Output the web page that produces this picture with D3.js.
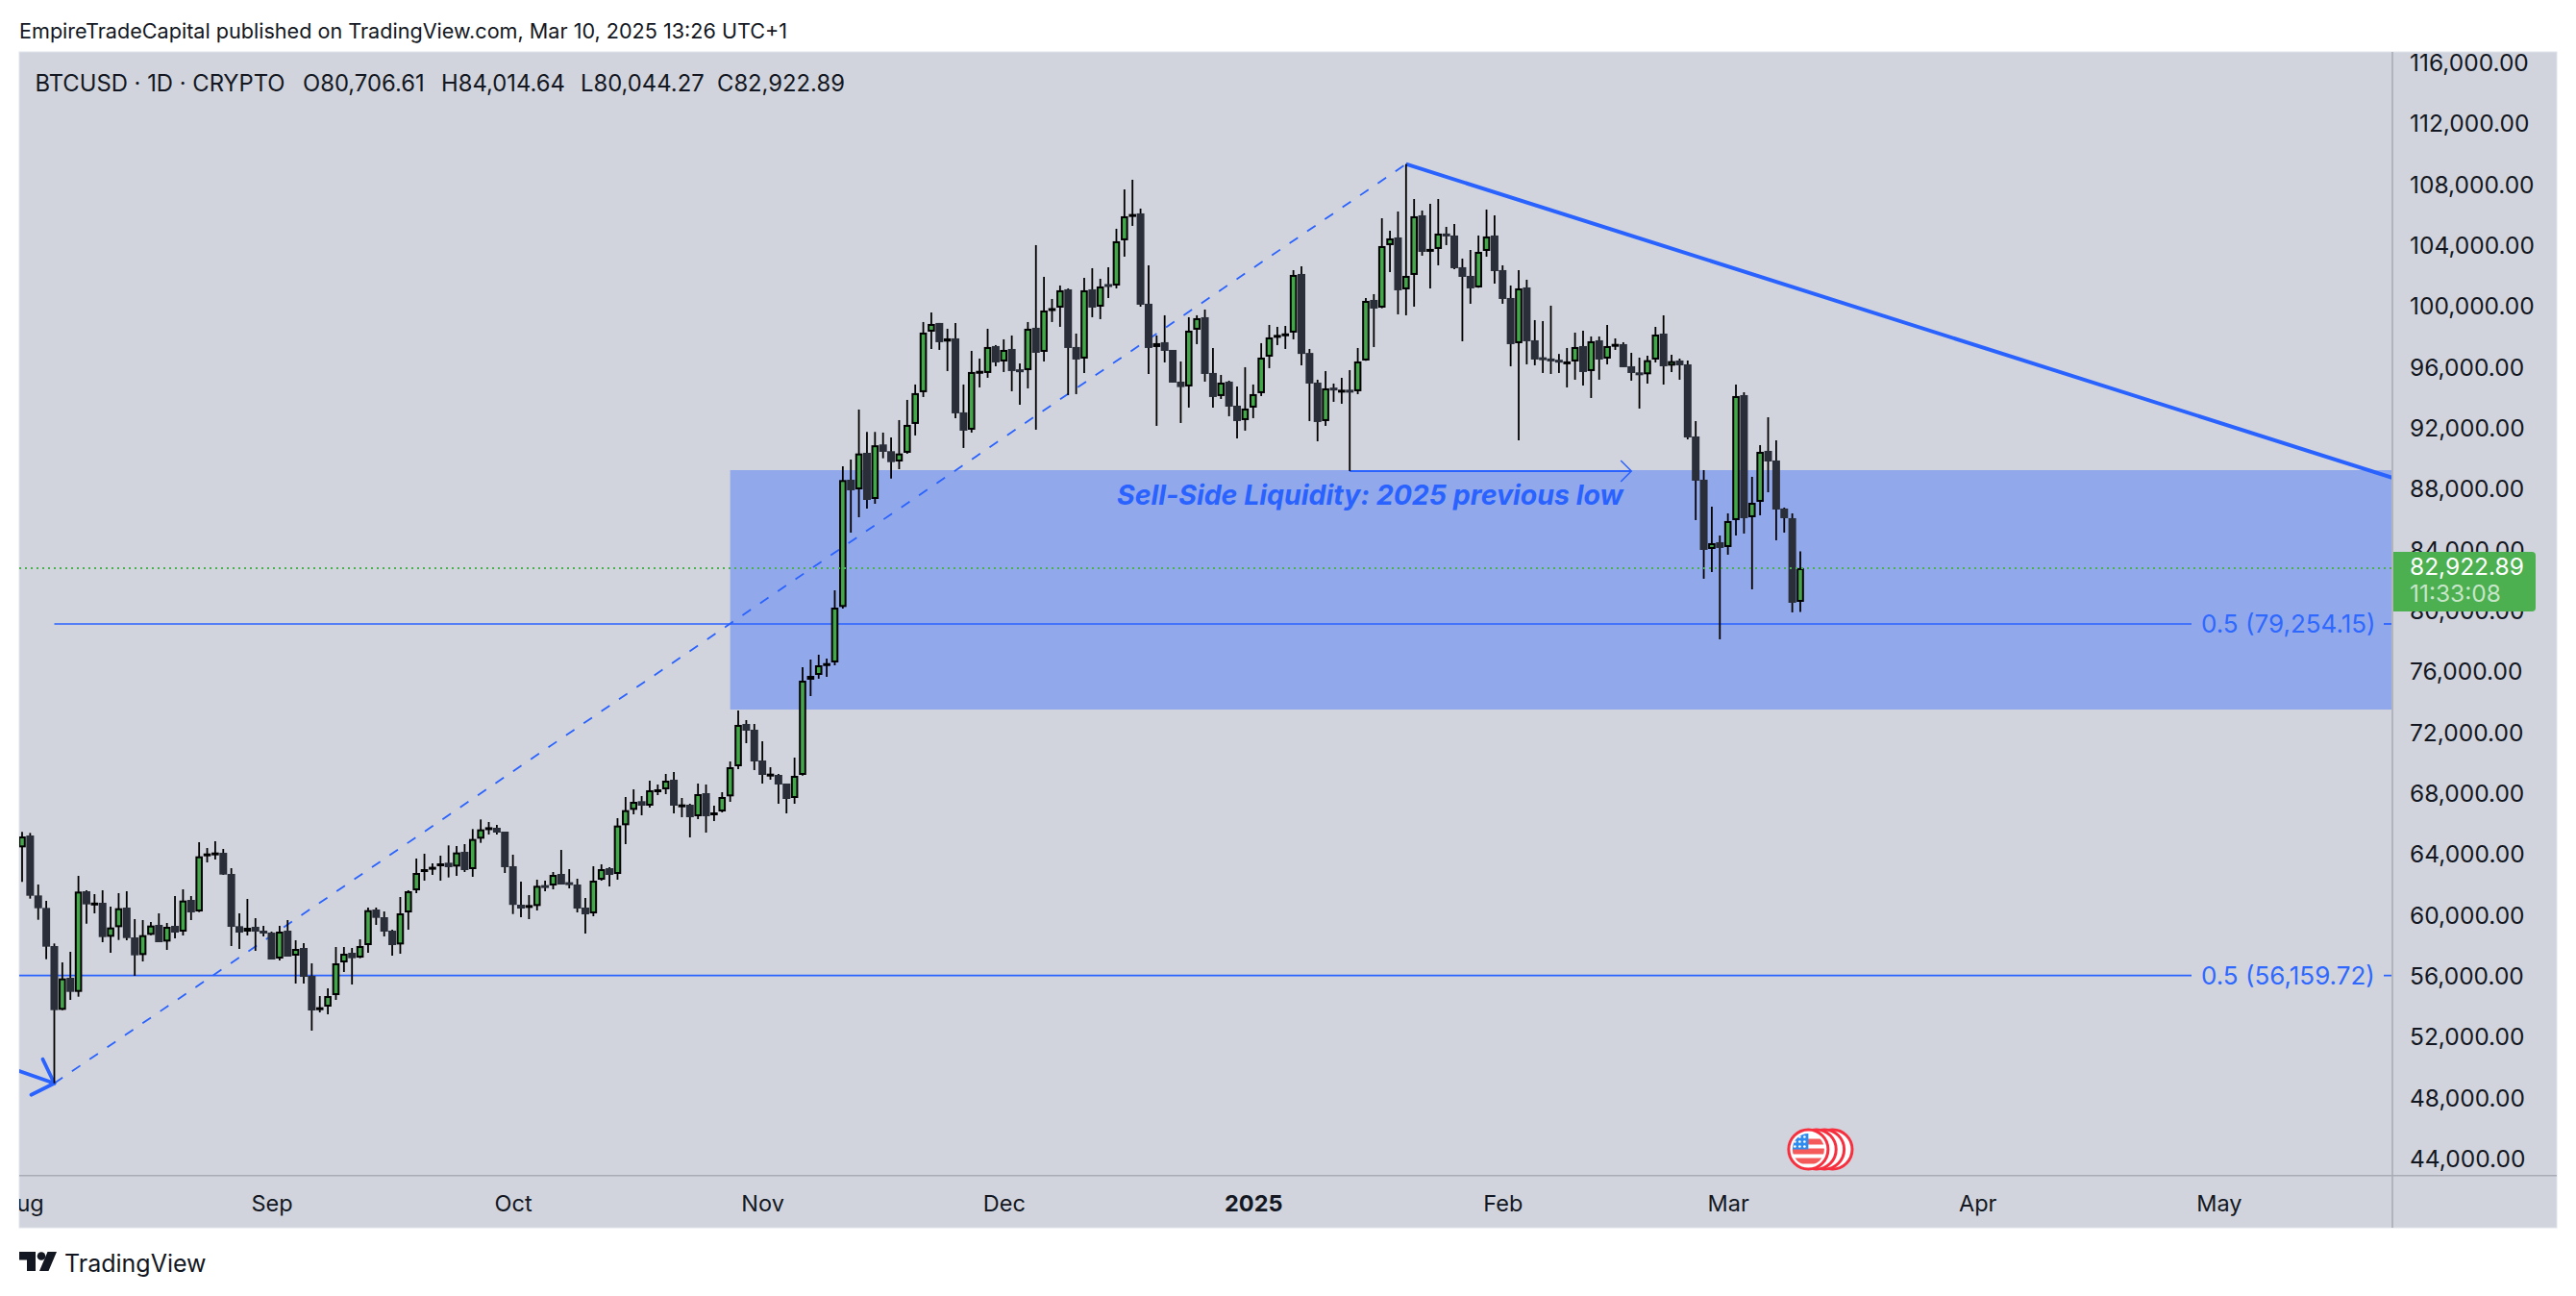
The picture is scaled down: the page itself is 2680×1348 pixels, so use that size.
<!DOCTYPE html>
<html>
<head>
<meta charset="utf-8">
<script src="https://cdn.jsdelivr.net/npm/d3@7"></script>
<style>
  html, body { margin: 0; padding: 0; background: #fff; }
  svg { display: block; }
  text { font-family: Inter, "Noto Sans", sans-serif; }
</style>
</head>
<body>
<svg id="chart" width="2680" height="1348"></svg>
<script>
// Daily candles, Aug 1 2024 to Mar 10 2025
const opens = [
  64579,65358,61421,60600,58095,53906,56011,55085,61695,60860,
  60937,58705,59337,60621,58663,57506,58832,59485,58390,59422,
  59043,61127,60368,64010,64200,64221,62832,59400,59043,59358,
  59106,58979,57274,59106,57464,57969,56137,53885,54117,54874,
  57022,57653,57337,58158,60495,59990,59106,58200,60305,61758,
  62958,63230,63337,63570,63318,64286,63149,65149,65870,65865,
  65612,63339,60811,60750,60727,62100,62074,62832,62290,62137,
  60621,60242,62453,63210,62832,66033,67043,67612,67317,68350,
  68391,69022,67360,67380,66623,68138,66686,66938,67928,69906,
  72685,72306,70285,69340,69338,68770,67822,69338,75590,75906,
  76590,76726,80370,88727,88095,90495,87464,91046,90603,89926,
  90498,92393,94477,98455,99024,97803,98013,93151,92013,95840,
  95740,97508,96497,97318,95980,95929,98708,97129,99900,100034,
  101234,97445,96687,101234,100097,101580,101486,104455,106050,106223,
  100287,97445,97761,97255,95171,94856,98582,99402,95740,94224,
  95171,93592,92645,93466,94413,96813,98200,98240,98392,102244,
  97055,95108,92582,94780,94600,94640,94540,96560,100539,100033,
  104138,104643,101233,102181,106096,103800,103886,104900,104770,102686,
  102117,101360,103759,104770,102496,100665,97697,101360,97886,96770,
  96690,96610,96460,96497,97507,95866,97886,96686,97550,97634,
  96181,95780,95654,96622,98327,96222,96559,96306,91570,88728,
  84181,84623,84308,86076,94285,86265,87276,90623,89991,86834,
  86202,80706.61
];
const highs = [
  65589,65526,62137,61063,58264,57022,57716,62705,61758,61505,
  61758,60684,61569,61695,59864,59800,59674,60243,59611,61379,
  61821,61379,64916,64537,64979,64473,63210,60243,61190,59927,
  59422,59043,59422,59800,58474,58285,56959,54811,55317,58032,
  58032,57969,58537,60621,60621,60368,59169,61316,61758,63842,
  64158,63526,64031,64707,64665,64791,65781,66412,66244,66054,
  65612,64097,62326,61442,62453,62390,62958,64410,63147,62516,
  61253,63337,63463,63274,66496,67886,68391,67949,68959,68707,
  69401,69528,67822,67443,68770,68707,67317,68201,70222,73569,
  72938,72685,71548,69843,69401,68770,70475,76411,76916,77232,
  76979,81464,89611,90053,93340,91867,91867,91824,91509,92645,
  93972,94982,99087,99718,99024,98645,99024,94982,97192,96687,
  98645,97571,97950,98202,96371,99087,104139,102055,100602,101487,
  101297,98329,101992,102623,101928,102686,105212,107801,108433,106538,
  102812,98202,99529,97255,96497,99402,99529,99908,97382,95613,
  95234,94855,96119,94982,97697,98897,98770,98833,102496,102749,
  97318,95297,95865,95045,95423,95928,97381,100665,100918,105906,
  105085,106348,109464,107169,106412,106854,107169,105338,105527,103254,
  103822,104770,106475,106096,102812,101486,102496,101865,99212,99149,
  100160,96990,97381,98391,98518,98139,98139,98897,98012,97760,
  97065,96748,96874,98769,99527,96938,96685,96559,92580,89360,
  86960,85065,86518,94980,94475,88918,91002,92833,91317,86897,
  86518,84014.64
];
const lows = [
  62305,61211,59822,57232,49080,53885,54559,54769,59569,60243,
  58348,57653,58495,58474,56137,57085,58811,58348,57843,58600,
  58790,59800,60326,63589,63779,62769,58095,57906,58790,57779,
  58727,57211,57148,57401,55632,55632,52538,53738,53612,54559,
  56390,55569,57295,57653,59485,58727,57464,57590,59169,61569,
  62390,62768,62390,62602,62707,62960,62644,64875,65423,65423,
  62897,60200,59990,59864,60432,61695,61821,62137,61884,60306,
  58916,60053,62390,62011,62453,64791,66749,66686,67191,68012,
  68075,66812,66560,65233,66433,65549,66307,66875,67570,69717,
  71422,69654,68770,69022,67443,66812,67443,69296,74516,75653,
  75779,76537,80265,85253,86264,86832,87148,90137,88811,89421,
  90435,91635,94161,97318,97256,95866,92772,90814,91824,94792,
  95424,96182,95803,94540,93656,94729,92014,96497,99087,98771,
  94287,94350,95740,99402,99276,100665,101297,103381,105402,100097,
  95677,92266,96434,95108,92455,93466,97634,95171,93466,94034,
  92898,91446,91951,92771,94224,96055,97571,97318,97950,96244,
  92582,91255,92266,93845,93718,89298,94350,96540,97444,99991,
  102370,99591,99528,100097,103444,101297,102812,104138,102560,97823,
  100286,101339,103380,101612,100286,96181,91319,96308,96244,95739,
  95676,95739,94792,95297,94918,94097,95297,96308,97255,96118,
  95234,93402,95043,96432,94980,95801,95296,91380,86076,82224,
  82666,78245,83802,85065,85192,81529,86392,87907,84750,85255,
  80014,80044.27
];
const closes = [
  65295,61400,60579,58053,53885,55970,55085,61674,60832,60950,
  58685,59316,60579,58621,57485,58811,59443,58348,59358,58979,
  61085,60305,63989,64179,64242,62790,59358,58979,59295,59043,
  58916,57211,59043,57401,57906,56074,53864,54075,54811,56959,
  57590,57295,58095,60453,59948,59043,58158,60243,61695,62895,
  63147,63300,63526,63276,64244,63086,65128,65760,65900,65549,
  63276,60800,60558,60790,62053,62000,62768,62137,62180,60558,
  60179,62390,63147,62768,66012,67023,67570,67317,68328,68390,
  68959,67317,67400,66560,68075,66623,66875,67886,69843,72622,
  72243,70222,69338,69420,68706,67759,69275,75527,75842,76537,
  76680,80326,88706,88032,90453,87400,90990,90561,89884,90453,
  92330,94414,98392,98960,97761,98013,93088,91950,95803,95880,
  97445,96434,97255,95866,95900,98645,97066,99844,100000,101171,
  97382,96624,101171,100034,101423,101440,104391,106033,106180,100224,
  97382,97698,97192,95108,94814,98518,99339,95677,94161,95108,
  93529,92582,93403,94350,96750,98076,98240,98340,102181,96992,
  95045,92519,94729,94600,94640,94540,96497,100475,99970,104075,
  104580,101170,102117,106033,103696,103890,104896,104760,102623,102054,
  101297,103696,104707,102433,100602,97634,101297,97823,96623,96650,
  96620,96500,96500,97444,95803,97823,96623,97507,97650,96118,
  95739,95700,96580,98264,96180,96517,96243,91507,88665,84118,
  84560,84245,86013,94222,86202,87213,90560,89928,86771,86202,
  80645,82922.89
];

const priceTicks = d3.range(44000, 116001, 4000);
const monthTicks = [
  ['2024-08-01', 'Aug'], ['2024-09-01', 'Sep'], ['2024-10-01', 'Oct'],
  ['2024-11-01', 'Nov'], ['2024-12-01', 'Dec'], ['2025-01-01', '2025'],
  ['2025-02-01', 'Feb'], ['2025-03-01', 'Mar'], ['2025-04-01', 'Apr'],
  ['2025-05-01', 'May']
];
const eventDates = ['2025-03-14', '2025-03-13', '2025-03-12', '2025-03-11'];

const lastPrice = 82922.89;
const fibLevels = [
  { from: '2024-08-05', price: 79254.15, label: '0.5 (79,254.15)' },
  { from: '2024-07-20', price: 56159.72, label: '0.5 (56,159.72)' }
];
const zoneTop = 89358, zoneBottom = 73631, zoneStart = '2024-10-28';
const swingLow = ['2024-08-05', 49080], swingHigh = ['2025-01-20', 109464];
const trendEnd = ['2025-05-23', 88788], leftLegStart = ['2024-07-28', 50560];
const sellSide = ['2025-01-13', '2025-02-17', 89295];

const parseDay = d3.utcParse('%Y-%m-%d');
const firstDay = parseDay('2024-08-01'), lastDay = parseDay('2025-03-10');
const candles = closes.map((c, i) => ({
  date: d3.utcDay.offset(firstDay, i), open: opens[i], high: highs[i], low: lows[i], close: c
}));

const panel = { left: 20, top: 54, right: 2660, bottom: 1277 };
const plotRight = 2488, plotBottom = 1222;

const x = d3.scaleUtc().domain([firstDay, lastDay]).range([23, 1873]);
const y = d3.scaleLinear().domain([88000, 44000]).range([510.5, 1207.2]);

const svg = d3.select('#chart');
const BLUE = '#2962ff', GREEN = '#43a84a', DARK = '#2a2e39', INK = '#131722';

svg.append('defs').append('clipPath').attr('id', 'plot-clip')
  .append('rect')
  .attr('x', panel.left).attr('y', panel.top)
  .attr('width', plotRight - panel.left).attr('height', plotBottom - panel.top);

svg.select('defs').append('clipPath').attr('id', 'time-clip')
  .append('rect')
  .attr('x', panel.left).attr('y', plotBottom)
  .attr('width', plotRight - panel.left).attr('height', panel.bottom - plotBottom);

// header
svg.append('text').attr('x', 20).attr('y', 40)
  .attr('font-size', 21.6).attr('fill', INK)
  .text('EmpireTradeCapital published on TradingView.com, Mar 10, 2025 13:26 UTC+1');

// panel background
svg.append('rect')
  .attr('x', panel.left).attr('y', panel.top)
  .attr('width', panel.right - panel.left).attr('height', panel.bottom - panel.top)
  .attr('fill', '#d1d4dc').attr('stroke', '#e0e3eb').attr('stroke-width', 1);

const plot = svg.append('g').attr('clip-path', 'url(#plot-clip)');

// liquidity zone
plot.append('rect')
  .attr('x', x(parseDay(zoneStart))).attr('y', y(zoneTop))
  .attr('width', plotRight - x(parseDay(zoneStart)))
  .attr('height', y(zoneBottom) - y(zoneTop))
  .attr('fill', '#91a8ea');

// fib levels, gap in the line leaves room for the label
const labelGapStart = 2280, labelGapEnd = 2480;
plot.selectAll('.fib-a').data(fibLevels).join('line')
  .attr('x1', d => x(parseDay(d.from))).attr('x2', labelGapStart)
  .attr('y1', d => y(d.price)).attr('y2', d => y(d.price))
  .attr('stroke', BLUE).attr('stroke-width', 1.7);
plot.selectAll('.fib-b').data(fibLevels).join('line')
  .attr('x1', labelGapEnd).attr('x2', plotRight)
  .attr('y1', d => y(d.price)).attr('y2', d => y(d.price))
  .attr('stroke', BLUE).attr('stroke-width', 1.7);
plot.selectAll('.fib-label').data(fibLevels).join('text')
  .attr('x', 2290).attr('y', d => y(d.price) + 9)
  .attr('font-size', 26).attr('fill', '#2f68ff')
  .text(d => d.label);

// dashed swing line
const pt = ([d, p]) => [x(parseDay(d)), y(p)];
plot.append('line')
  .attr('x1', pt(swingLow)[0]).attr('y1', pt(swingLow)[1])
  .attr('x2', pt(swingHigh)[0]).attr('y2', pt(swingHigh)[1])
  .attr('stroke', BLUE).attr('stroke-width', 1.8).attr('stroke-dasharray', '10.5,11.7');

// solid trend legs
plot.append('line')
  .attr('x1', pt(swingHigh)[0]).attr('y1', pt(swingHigh)[1])
  .attr('x2', pt(trendEnd)[0]).attr('y2', pt(trendEnd)[1])
  .attr('stroke', BLUE).attr('stroke-width', 4);
plot.append('line')
  .attr('x1', pt(leftLegStart)[0]).attr('y1', pt(leftLegStart)[1])
  .attr('x2', pt(swingLow)[0]).attr('y2', pt(swingLow)[1])
  .attr('stroke', BLUE).attr('stroke-width', 3.8).attr('stroke-linecap', 'round');

const [tipX, tipY] = pt(swingLow);
plot.append('path')
  .attr('d', `M${tipX - 12},${tipY - 25}L${tipX},${tipY}L${tipX - 24},${tipY + 12}`)
  .attr('fill', 'none').attr('stroke', BLUE).attr('stroke-width', 3.8)
  .attr('stroke-linecap', 'round').attr('stroke-linejoin', 'round');

// sell side arrow
const ssY = y(sellSide[2]), ssX1 = x(parseDay(sellSide[0])), ssX2 = x(parseDay(sellSide[1]));
plot.append('line')
  .attr('x1', ssX1).attr('x2', ssX2).attr('y1', ssY).attr('y2', ssY)
  .attr('stroke', BLUE).attr('stroke-width', 2);
plot.append('path')
  .attr('d', `M${ssX2 - 11},${ssY - 11}L${ssX2},${ssY}L${ssX2 - 11},${ssY + 11}`)
  .attr('fill', 'none').attr('stroke', BLUE).attr('stroke-width', 1.5);
plot.append('text')
  .attr('x', 1162).attr('y', 525)
  .attr('font-size', 28.5).attr('font-weight', 700).attr('font-style', 'italic')
  .attr('fill', '#2962ff')
  .text('Sell-Side Liquidity: 2025 previous low');

// candles
plot.append('g').selectAll('line').data(candles).join('line')
  .attr('x1', d => x(d.date)).attr('x2', d => x(d.date))
  .attr('y1', d => y(d.high)).attr('y2', d => y(d.low))
  .attr('stroke', '#000').attr('stroke-width', 1.8);

const isUp = d => d.close >= d.open;
plot.append('g').selectAll('rect').data(candles.filter(d => !isUp(d))).join('rect')
  .attr('x', d => x(d.date) - 4)
  .attr('width', 8)
  .attr('y', d => y(d.open))
  .attr('height', d => Math.max(3, y(d.close) - y(d.open)))
  .attr('fill', DARK);

plot.append('g').selectAll('rect').data(candles.filter(isUp)).join('rect')
  .attr('x', d => x(d.date) - 2.8)
  .attr('width', 5.6)
  .attr('y', d => y(d.close) + 1)
  .attr('height', d => Math.max(1, y(d.open) - y(d.close) - 2))
  .attr('fill', GREEN)
  .attr('stroke', '#000').attr('stroke-width', 2);

// last price line
plot.append('line')
  .attr('x1', panel.left).attr('x2', plotRight)
  .attr('y1', y(lastPrice)).attr('y2', y(lastPrice))
  .attr('stroke', '#4caf50').attr('stroke-width', 2).attr('stroke-dasharray', '2,4');

// economic event badges
const badges = plot.append('g');
const badgeR = 20.5, badgeY = 1195.5;
badges.selectAll('circle').data(eventDates.slice(0, 3)).join('circle')
  .attr('cx', d => x(parseDay(d))).attr('cy', badgeY).attr('r', badgeR)
  .attr('fill', '#fff').attr('stroke', '#f7303f').attr('stroke-width', 3);
const frontX = x(parseDay(eventDates[3]));
svg.select('defs').append('clipPath').attr('id', 'flag-clip')
  .append('circle').attr('cx', frontX).attr('cy', badgeY).attr('r', badgeR - 4);
badges.append('circle').attr('cx', frontX).attr('cy', badgeY).attr('r', badgeR)
  .attr('fill', '#fff').attr('stroke', '#f7303f').attr('stroke-width', 3);
const flag = badges.append('g').attr('clip-path', 'url(#flag-clip)');
flag.selectAll('.stripe').data([-11, -1, 9]).join('rect')
  .attr('x', frontX - 20).attr('width', 40)
  .attr('y', d => badgeY + d).attr('height', 6)
  .attr('fill', '#f55a5a');
flag.append('rect')
  .attr('x', frontX - 18).attr('y', badgeY - 18).attr('width', 18).attr('height', 18)
  .attr('fill', '#2e8bf0');
flag.selectAll('.star').data(d3.cross([-14, -9, -4], [-13, -8, -3])).join('circle')
  .attr('cx', d => frontX + d[0]).attr('cy', d => badgeY + d[1]).attr('r', 1.3)
  .attr('fill', '#fff');

// axis rules
svg.append('line').attr('x1', plotRight + 1).attr('x2', plotRight + 1)
  .attr('y1', panel.top).attr('y2', panel.bottom)
  .attr('stroke', '#a9acb5').attr('stroke-width', 1.6);
svg.append('line').attr('x1', panel.left).attr('x2', panel.right)
  .attr('y1', plotBottom + 0.7).attr('y2', plotBottom + 0.7)
  .attr('stroke', '#a9acb5').attr('stroke-width', 1.6);

// price axis
const yAxis = d3.axisRight(y).tickValues(priceTicks).tickSize(0).tickPadding(0)
  .tickFormat(d3.format(',.2f'));
const yG = svg.append('g').attr('transform', 'translate(2507,0)').call(yAxis);
yG.select('.domain').remove();
yG.selectAll('text')
  .attr('x', 0).attr('dy', null).attr('y', 6.2)
  .attr('font-size', 24.5).attr('fill', INK)
  .style('font-family', 'Inter, "Noto Sans", sans-serif');

// time axis
const xAxis = d3.axisBottom(x)
  .tickValues(monthTicks.map(d => parseDay(d[0])))
  .tickSize(0).tickPadding(0)
  .tickFormat((d, i) => monthTicks[i][1]);
const xG = svg.append('g').attr('clip-path', 'url(#time-clip)')
  .append('g').attr('transform', 'translate(0,1252)').call(xAxis);
xG.select('.domain').remove();
xG.selectAll('text')
  .attr('y', 8).attr('dy', null)
  .attr('font-size', 23.5).attr('fill', INK)
  .attr('font-weight', d => d.getUTCMonth() === 0 ? 700 : 400)
  .style('font-family', 'Inter, "Noto Sans", sans-serif');

// last price tag
const tag = svg.append('g');
tag.append('path')
  .attr('d', 'M2490,574H2634a4,4 0 0 1 4,4V632a4,4 0 0 1 -4,4H2490Z')
  .attr('fill', '#4caf50');
tag.append('text').attr('x', 2507).attr('y', 597.5)
  .attr('font-size', 24.5).attr('fill', '#fff').text(d3.format(',.2f')(lastPrice));
tag.append('text').attr('x', 2507).attr('y', 625.5)
  .attr('font-size', 24.5).attr('fill', '#fff').attr('fill-opacity', 0.7).text('11:33:08');

// legend
const legendItems = [
  [36.5, 'BTCUSD · 1D · CRYPTO'], [315, 'O80,706.61'], [459, 'H84,014.64'],
  [604, 'L80,044.27'], [746, 'C82,922.89']
];
svg.append('g').selectAll('text').data(legendItems).join('text')
  .attr('x', d => d[0]).attr('y', 95)
  .attr('font-size', 23.8).attr('fill', INK)
  .text(d => d[1]);

// footer logo
svg.append('path')
  .attr('d', 'M20,1302H37V1322H28V1310.5H20ZM59,1302L50.5,1322H41L49.5,1302Z')
  .attr('fill', '#131722');
svg.append('circle').attr('cx', 43).attr('cy', 1306.5).attr('r', 4.3).attr('fill', '#131722');
svg.append('text').attr('x', 67).attr('y', 1322.5)
  .attr('font-size', 25).attr('fill', INK).text('TradingView');
</script>
</body>
</html>
